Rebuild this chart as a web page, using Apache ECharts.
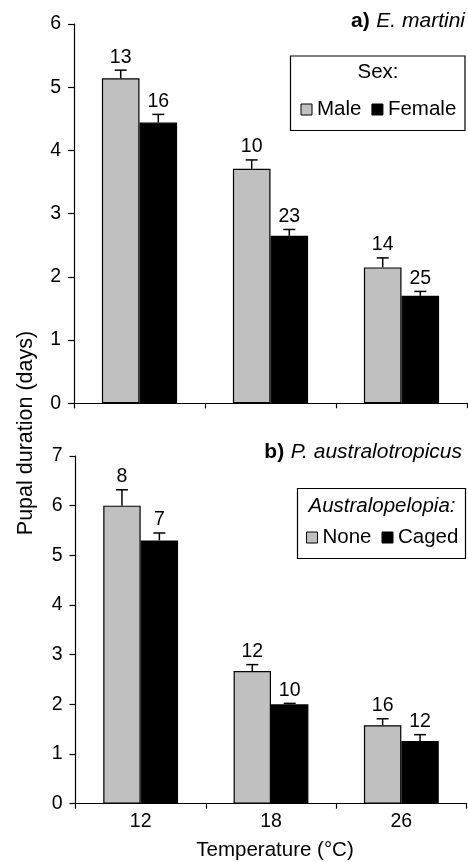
<!DOCTYPE html>
<html><head><meta charset="utf-8">
<script src="https://cdn.jsdelivr.net/npm/echarts@6/dist/echarts.min.js"></script>
<style>html,body{margin:0;padding:0;background:#fff}#c{width:468px;height:862px}</style>
</head><body><div id="c"></div>
<script>
// ---- data ----
const temps = ['12', '18', '26'];
// panel a) E. martini
const male = [5.14, 3.71, 2.15];
const maleSE = [0.13, 0.14, 0.15];
const maleN = [13, 10, 14];
const female = [4.44, 2.65, 1.70];
const femaleSE = [0.13, 0.10, 0.07];
const femaleN = [16, 23, 25];
// panel b) P. australotropicus
const none = [6.00, 2.67, 1.58];
const noneSE = [0.32, 0.13, 0.13];
const noneN = [8, 12, 16];
const caged = [5.30, 2.00, 1.26];
const cagedSE = [0.15, 0.02, 0.13];
const cagedN = [7, 10, 12];

const F = "'Liberation Sans', Arial, Helvetica, sans-serif";
const GRAY = '#c0c0c0';
const BAR_FRAC = 0.287;
const TICK_FS = 19.5, LBL_FS = 19.5, LEG_FS = 20.5, TITLE_FS = 21;

function errData(vals, se, n) {
  return vals.map((v, i) => [i, v, se[i], n[i]]);
}
function errRender(side) {
  return function (params, api) {
    const ci = api.value(0), v = api.value(1), se = api.value(2), n = api.value(3);
    const base = api.coord([ci, v]);
    const top = api.coord([ci, v + se]);
    const bw = api.size([1, 0])[0] * BAR_FRAC;
    const x = base[0] + side * bw / 2;
    return {
      type: 'group',
      children: [
        { type: 'line', shape: { x1: x, y1: base[1], x2: x, y2: top[1] }, style: { stroke: '#000', lineWidth: 1.5 } },
        { type: 'line', shape: { x1: x - 6, y1: top[1], x2: x + 6, y2: top[1] }, style: { stroke: '#000', lineWidth: 1.5 } },
        { type: 'text', x: x, y: top[1] - 13, style: { text: String(n), align: 'center', verticalAlign: 'middle', fontSize: LBL_FS, fontFamily: F, fill: '#000' } }
      ]
    };
  };
}

function barSeries(name, data, color, idx) {
  return {
    type: 'bar', name: name, data: data, xAxisIndex: idx, yAxisIndex: idx,
    barWidth: (BAR_FRAC * 100) + '%', barGap: '0%',
    itemStyle: { color: color, borderColor: '#000', borderWidth: 1.2 },
    z: 2
  };
}
function errSeries(vals, se, n, side, idx) {
  return {
    type: 'custom', xAxisIndex: idx, yAxisIndex: idx, clip: false, z: 5,
    renderItem: errRender(side), data: errData(vals, se, n)
  };
}

const axisLineStyle = { color: '#000', width: 1.2 };
function xAx(idx, showLabels) {
  return {
    type: 'category', gridIndex: idx, data: temps,
    axisLine: { lineStyle: axisLineStyle },
    axisTick: { show: true, length: 5, lineStyle: axisLineStyle },
    axisLabel: { show: showLabels, fontSize: TICK_FS, fontFamily: F, color: '#000', margin: 8 },
    splitLine: { show: false }
  };
}
function yAx(idx, max) {
  return {
    type: 'value', gridIndex: idx, min: 0, max: max, interval: 1,
    axisLine: { show: true, lineStyle: axisLineStyle },
    axisTick: { show: true, length: 6, lineStyle: axisLineStyle },
    axisLabel: { fontSize: TICK_FS, fontFamily: F, color: '#000', margin: 13 },
    splitLine: { show: false }
  };
}

const legendCommon = {
  orient: 'horizontal', itemWidth: 11, itemHeight: 11, itemGap: 10, padding: 0,
  icon: 'rect', selectedMode: false,
  textStyle: { fontSize: LEG_FS, fontFamily: F, color: '#000' }
};

const titleRich = {
  b: { fontSize: TITLE_FS, fontWeight: 'bold', fontFamily: F, fill: '#000' },
  i: { fontSize: TITLE_FS, fontStyle: 'italic', fontFamily: F, fill: '#000' }
};

const chart = echarts.init(document.getElementById('c'), null, { renderer: 'canvas' });
chart.setOption({
  animation: false,
  backgroundColor: '#fff',
  grid: [
    { left: 74, top: 24, width: 393, height: 379.3 },
    { left: 75.5, top: 456, width: 391, height: 347.7 }
  ],
  xAxis: [xAx(0, false), xAx(1, true)],
  yAxis: [yAx(0, 6), yAx(1, 7)],
  legend: [
    Object.assign({}, legendCommon, {
      left: 300.5, top: 99,
      data: [
        { name: 'Male', itemStyle: { color: GRAY, borderColor: '#000', borderWidth: 1 } },
        { name: 'Female', itemStyle: { color: '#000', borderColor: '#000', borderWidth: 1 } }
      ]
    }),
    Object.assign({}, legendCommon, {
      left: 306, top: 527,
      data: [
        { name: 'None', itemStyle: { color: GRAY, borderColor: '#000', borderWidth: 1 } },
        { name: 'Caged', itemStyle: { color: '#000', borderColor: '#000', borderWidth: 1 } }
      ]
    })
  ],
  graphic: [
    { type: 'rect', shape: { x: 290.5, y: 56, width: 174.5, height: 74.5 }, style: { fill: 'none', stroke: '#000', lineWidth: 1.2 }, z: 10 },
    { type: 'text', x: 378, y: 72, style: { text: 'Sex:', align: 'center', verticalAlign: 'middle', fontSize: LEG_FS, fontFamily: F, fill: '#000' }, z: 10 },
    { type: 'rect', shape: { x: 297.5, y: 488.5, width: 168, height: 70 }, style: { fill: 'none', stroke: '#000', lineWidth: 1.2 }, z: 10 },
    { type: 'text', x: 382, y: 506, style: { text: 'Australopelopia:', align: 'center', verticalAlign: 'middle', fontSize: LEG_FS, fontStyle: 'italic', fontFamily: F, fill: '#000' }, z: 10 },
    { type: 'text', x: 465, y: 21, style: {
        text: '{b|a)}  {i|E. martini}', align: 'right', verticalAlign: 'middle', rich: titleRich }, z: 10 },
    { type: 'text', x: 462, y: 452, style: {
        text: '{b|b)}  {i|P. australotropicus}', align: 'right', verticalAlign: 'middle', rich: titleRich }, z: 10 },
    { type: 'text', x: 26, y: 433, rotation: Math.PI / 2, style: { text: 'Pupal duration (days)', align: 'center', verticalAlign: 'middle', fontSize: 21.5, fontFamily: F, fill: '#000' }, z: 10 },
    { type: 'text', x: 275, y: 850, style: { text: 'Temperature (\u00B0C)', align: 'center', verticalAlign: 'middle', fontSize: 20.5, fontFamily: F, fill: '#000' }, z: 10 }
  ],
  series: [
    barSeries('Male', male, GRAY, 0),
    barSeries('Female', female, '#000', 0),
    barSeries('None', none, GRAY, 1),
    barSeries('Caged', caged, '#000', 1),
    errSeries(male, maleSE, maleN, -1, 0),
    errSeries(female, femaleSE, femaleN, 1, 0),
    errSeries(none, noneSE, noneN, -1, 1),
    errSeries(caged, cagedSE, cagedN, 1, 1)
  ]
});
</script></body></html>
